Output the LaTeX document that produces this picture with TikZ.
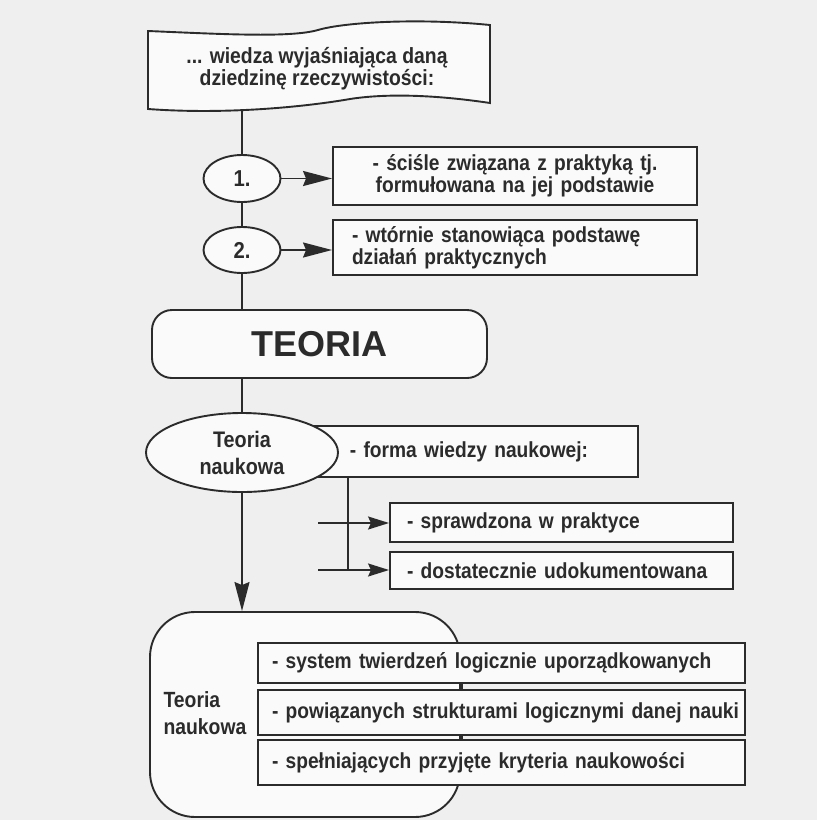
\documentclass[tikz,border=0pt]{standalone}
\usepackage{fontspec}
\setmainfont{Liberation Sans}[FakeStretch=0.88]
\newfontfamily\widefont{Liberation Sans}
\usetikzlibrary{shapes.geometric,arrows.meta}
\definecolor{ink}{HTML}{2B2B2B}
\definecolor{bg}{HTML}{EFEFEF}
\definecolor{paper}{HTML}{FAFAFA}
\begin{document}
\begin{tikzpicture}[x=1pt,y=-1pt,
  ln/.style={draw=ink,line width=1.9pt},
  txt/.style={font=\bfseries\fontsize{21.8}{22}\selectfont,text=ink},
  box/.style={ln,fill=paper,rectangle,inner ysep=0pt,txt},
  oval/.style={ln,fill=paper,ellipse,inner sep=0pt,txt},
  bigarrow/.style={ln,-{Stealth[length=29pt,width=15pt,inset=3pt]}},
  smallarrow/.style={ln,-{Stealth[length=21pt,width=13pt,inset=3pt]}}]
\fill[bg] (0,0) rectangle (817,820);
\useasboundingbox (0,0) rectangle (817,820);

% banner
\draw[ln,fill=paper] (148,31) .. controls (220,34) and (290,38) .. (318,30)
  .. controls (345,22) and (420,18) .. (490,25) -- (490,103)
  .. controls (450,97) and (395,92) .. (350,99)
  .. controls (310,106) and (230,115) .. (148,109) -- cycle;
\node[txt,align=center,font=\bfseries\fontsize{22}{19}\selectfont] (banner) at (317,69) {... wiedza wyjaśniająca daną\\dziedzinę rzeczywistości:};
\coordinate (bannerbot) at (242,111);

% numbered ellipses
\node[oval,minimum width=77pt,minimum height=47pt,font=\bfseries\fontsize{23}{24}\selectfont] (e1) at (242,178.5) {1.};
\node[oval,minimum width=77pt,minimum height=46pt,font=\bfseries\fontsize{23}{24}\selectfont] (e2) at (242,250) {2.};
\node[box,minimum width=364pt,minimum height=58pt,text width=330pt,inner xsep=17pt,align=center] (b1) at (515,176)
  {- ściśle związana z praktyką tj.\\formułowana na jej podstawie};
\node[box,minimum width=364pt,minimum height=55pt,text width=326pt,inner xsep=19pt,align=left] (b2) at (515,247.5)
  {- wtórnie stanowiąca podstawę\\działań praktycznych};

% TEORIA
\node[ln,fill=paper,rectangle,rounded corners=20pt,minimum width=335pt,minimum height=68pt,
  font=\widefont\bfseries\fontsize{36}{38}\selectfont,text=ink] (teoria) at (319.5,344) {TEORIA};

% forma box + ellipse
\node[box,minimum width=338pt,minimum height=51pt,text width=300pt,inner xsep=19pt,align=center] (forma) at (469,451.5)
  {- forma wiedzy naukowej:};
\node[oval,minimum width=192pt,minimum height=79pt,align=center,font=\bfseries\fontsize{22.5}{27}\selectfont] (tn1) at (242,452.5)
  {Teoria\\naukowa};

\node[box,minimum width=343pt,minimum height=39pt,text width=309pt,inner xsep=17pt,align=left] (spr) at (561.5,522.5)
  {- sprawdzona w praktyce};
\node[box,minimum width=343pt,minimum height=37pt,text width=309pt,inner xsep=17pt,align=left] (dost) at (561.5,570.5)
  {- dostatecznie udokumentowana};

\coordinate (br) at (348,570);
\coordinate (a1) at (318,523);
\coordinate (a2) at (318,570);

% bottom group
\node[ln,fill=paper,rectangle,rounded corners=45pt,minimum width=310pt,minimum height=205pt] (tnshape) at (305,714.5) {};
\node[txt,align=left,anchor=west,font=\bfseries\fontsize{22}{27}\selectfont] (tn2) at (160,713) {Teoria\\naukowa};
\node[box,minimum width=487pt,minimum height=40pt,text width=459pt,inner xsep=14pt,align=left] (c1) at (501.5,663)
  {- system twierdzeń logicznie uporządkowanych};
\node[box,minimum width=487pt,minimum height=45pt,text width=459pt,inner xsep=14pt,align=left] (c2) at (501.5,712.5)
  {\makebox[459pt][l]{- powiązanych strukturami logicznymi danej nauki}};
\node[box,minimum width=487pt,minimum height=45pt,text width=459pt,inner xsep=14pt,align=left] (c3) at (501.5,762.5)
  {- spełniających przyjęte kryteria naukowości};
\coordinate (tick) at (462,0);

% connectors
\draw[ln] (bannerbot) -- (e1.north);
\draw[ln] (e1.south) -- (e2.north);
\draw[ln] (e2.south) -- (e2.south |- teoria.north);
\draw[ln] (teoria.south -| tn1) -- (tn1.north);
\draw[bigarrow] (e1.east) -- (b1.west |- e1.east);
\draw[bigarrow] (e2.east) -- (b2.west |- e2.east);
\draw[ln] (forma.south -| br) -- (br);
\draw[smallarrow] (a1) -- (spr.west |- a1);
\draw[smallarrow] (a2) -- (dost.west |- a2);
\draw[bigarrow] (tn1.south) -- (tn1.south |- tnshape.north);
\draw[ln] (c1.south -| tick) -- (c2.north -| tick);
\draw[ln] (c2.south -| tick) -- (c3.north -| tick);
\end{tikzpicture}
\end{document}
